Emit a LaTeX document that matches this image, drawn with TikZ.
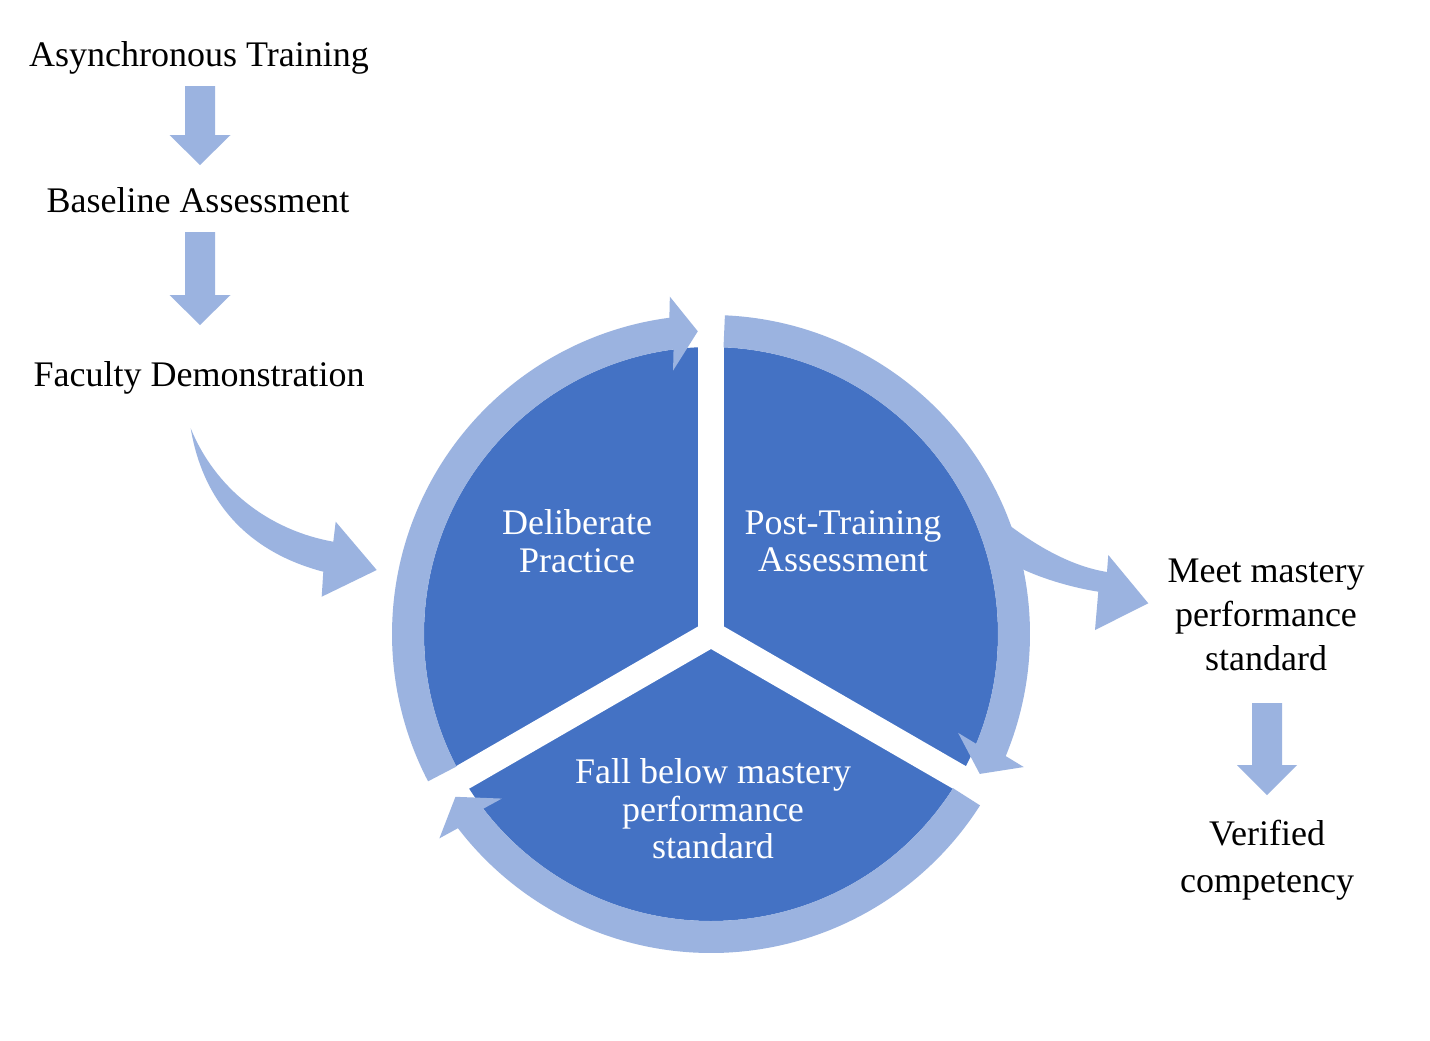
\documentclass[tikz,border=0pt]{standalone}
\usepackage{fontspec}
\setmainfont{Liberation Serif}
\usetikzlibrary{calc}
\definecolor{darkblue}{RGB}{68,114,196}
\definecolor{lightblue}{RGB}{155,179,224}
\tikzset{
  label/.style={inner sep=0pt, align=center, font=\fontsize{18pt}{22pt}\selectfont},
  pielabel/.style={inner sep=0pt, align=center, text=white, font=\fontsize{18pt}{18.75pt}\selectfont},
  block/.style={fill=lightblue, draw=none},
  gap/.style={draw=white, line width=13pt}
}
\begin{document}
\begin{tikzpicture}[x=0.5pt,y=0.5pt]
\fill[white] (0,0) rectangle (1430,-1040);
\useasboundingbox (0,0) rectangle (1430,-1040);

% left column
\node[label] (async) at (199,-58) {Asynchronous Training};
\node[label] (baseline) at (198,-200) {Baseline Assessment};
\node[label] (faculty) at (199,-378) {Faculty Demonstration};

% down arrows
\fill[block] (185,-86) -- (215,-86) -- (215,-135) -- (230.5,-135) -- (200,-165) -- (169.5,-135) -- (185,-135) -- cycle;
\fill[block] (185,-232) -- (215,-232) -- (215,-295) -- (230.5,-295) -- (200,-325) -- (169.5,-295) -- (185,-295) -- cycle;

% curved arrow from faculty demonstration
\coordinate (cstart) at (190.7,-428.3);
\fill[block] (cstart) .. controls (215,-488) and (268,-530) .. (333.3,-541.7)
  -- (335.7,-521.7) -- (376.7,-570) -- (321.7,-596.7) -- (323.3,-571.7)
  .. controls (248,-552) and (203,-502) .. (cstart) -- cycle;

% pie
\coordinate (C) at (711,-634);
\fill[darkblue] (C) circle[radius=143.5pt];
\draw[gap] (C) -- ($(C)+(90:295)$);
\draw[gap] (C) -- ($(C)+(210:295)$);
\draw[gap] (C) -- ($(C)+(330:295)$);

% ring arrows
\foreach \s/\b/\t in {207.5/97.5/92.5, 87.5/-22.5/-27.5, -32.5/-142.5/-147.5}{
  \fill[block] ($(C)+(\s:319)$) arc[start angle=\s, end angle=\b, radius=159.5pt]
    -- ($(C)+(\b:303)+(\t:37)$) -- ($(C)+(\t:303)$) -- ($(C)+(\b:303)+(\t:-37)$)
    -- ($(C)+(\b:287)$) arc[start angle=\b, end angle=\s, radius=143.5pt] -- cycle;
}

% exit arrow to the right
\coordinate (rstart) at (1005,-522);
\fill[block] (rstart) .. controls (1035,-545) and (1070,-566) .. (1107,-572)
  -- (1108.3,-555) -- (1148.3,-603.3) -- (1095,-630) -- (1098.3,-591.7)
  .. controls (1075,-588) and (1045,-580) .. (1020,-568) -- (1005,-560) -- cycle;

% pie labels
\node[pielabel] (delib) at (577,-541) {Deliberate\\Practice};
\node[pielabel] (post) at (843,-541) {Post-Training\\Assessment};
\node[pielabel] (fall) at (713,-809) {Fall below mastery\\performance\\standard};

% right column
\node[label] (meet) at (1266,-615) {Meet mastery\\performance\\standard};
\fill[block] (1252,-703) -- (1282,-703) -- (1282,-765) -- (1297,-765) -- (1267,-795) -- (1237,-765) -- (1252,-765) -- cycle;
\node[label, font=\fontsize{18pt}{23.5pt}\selectfont] (verified) at (1267,-860) {Verified\\competency};
\end{tikzpicture}
\end{document}
